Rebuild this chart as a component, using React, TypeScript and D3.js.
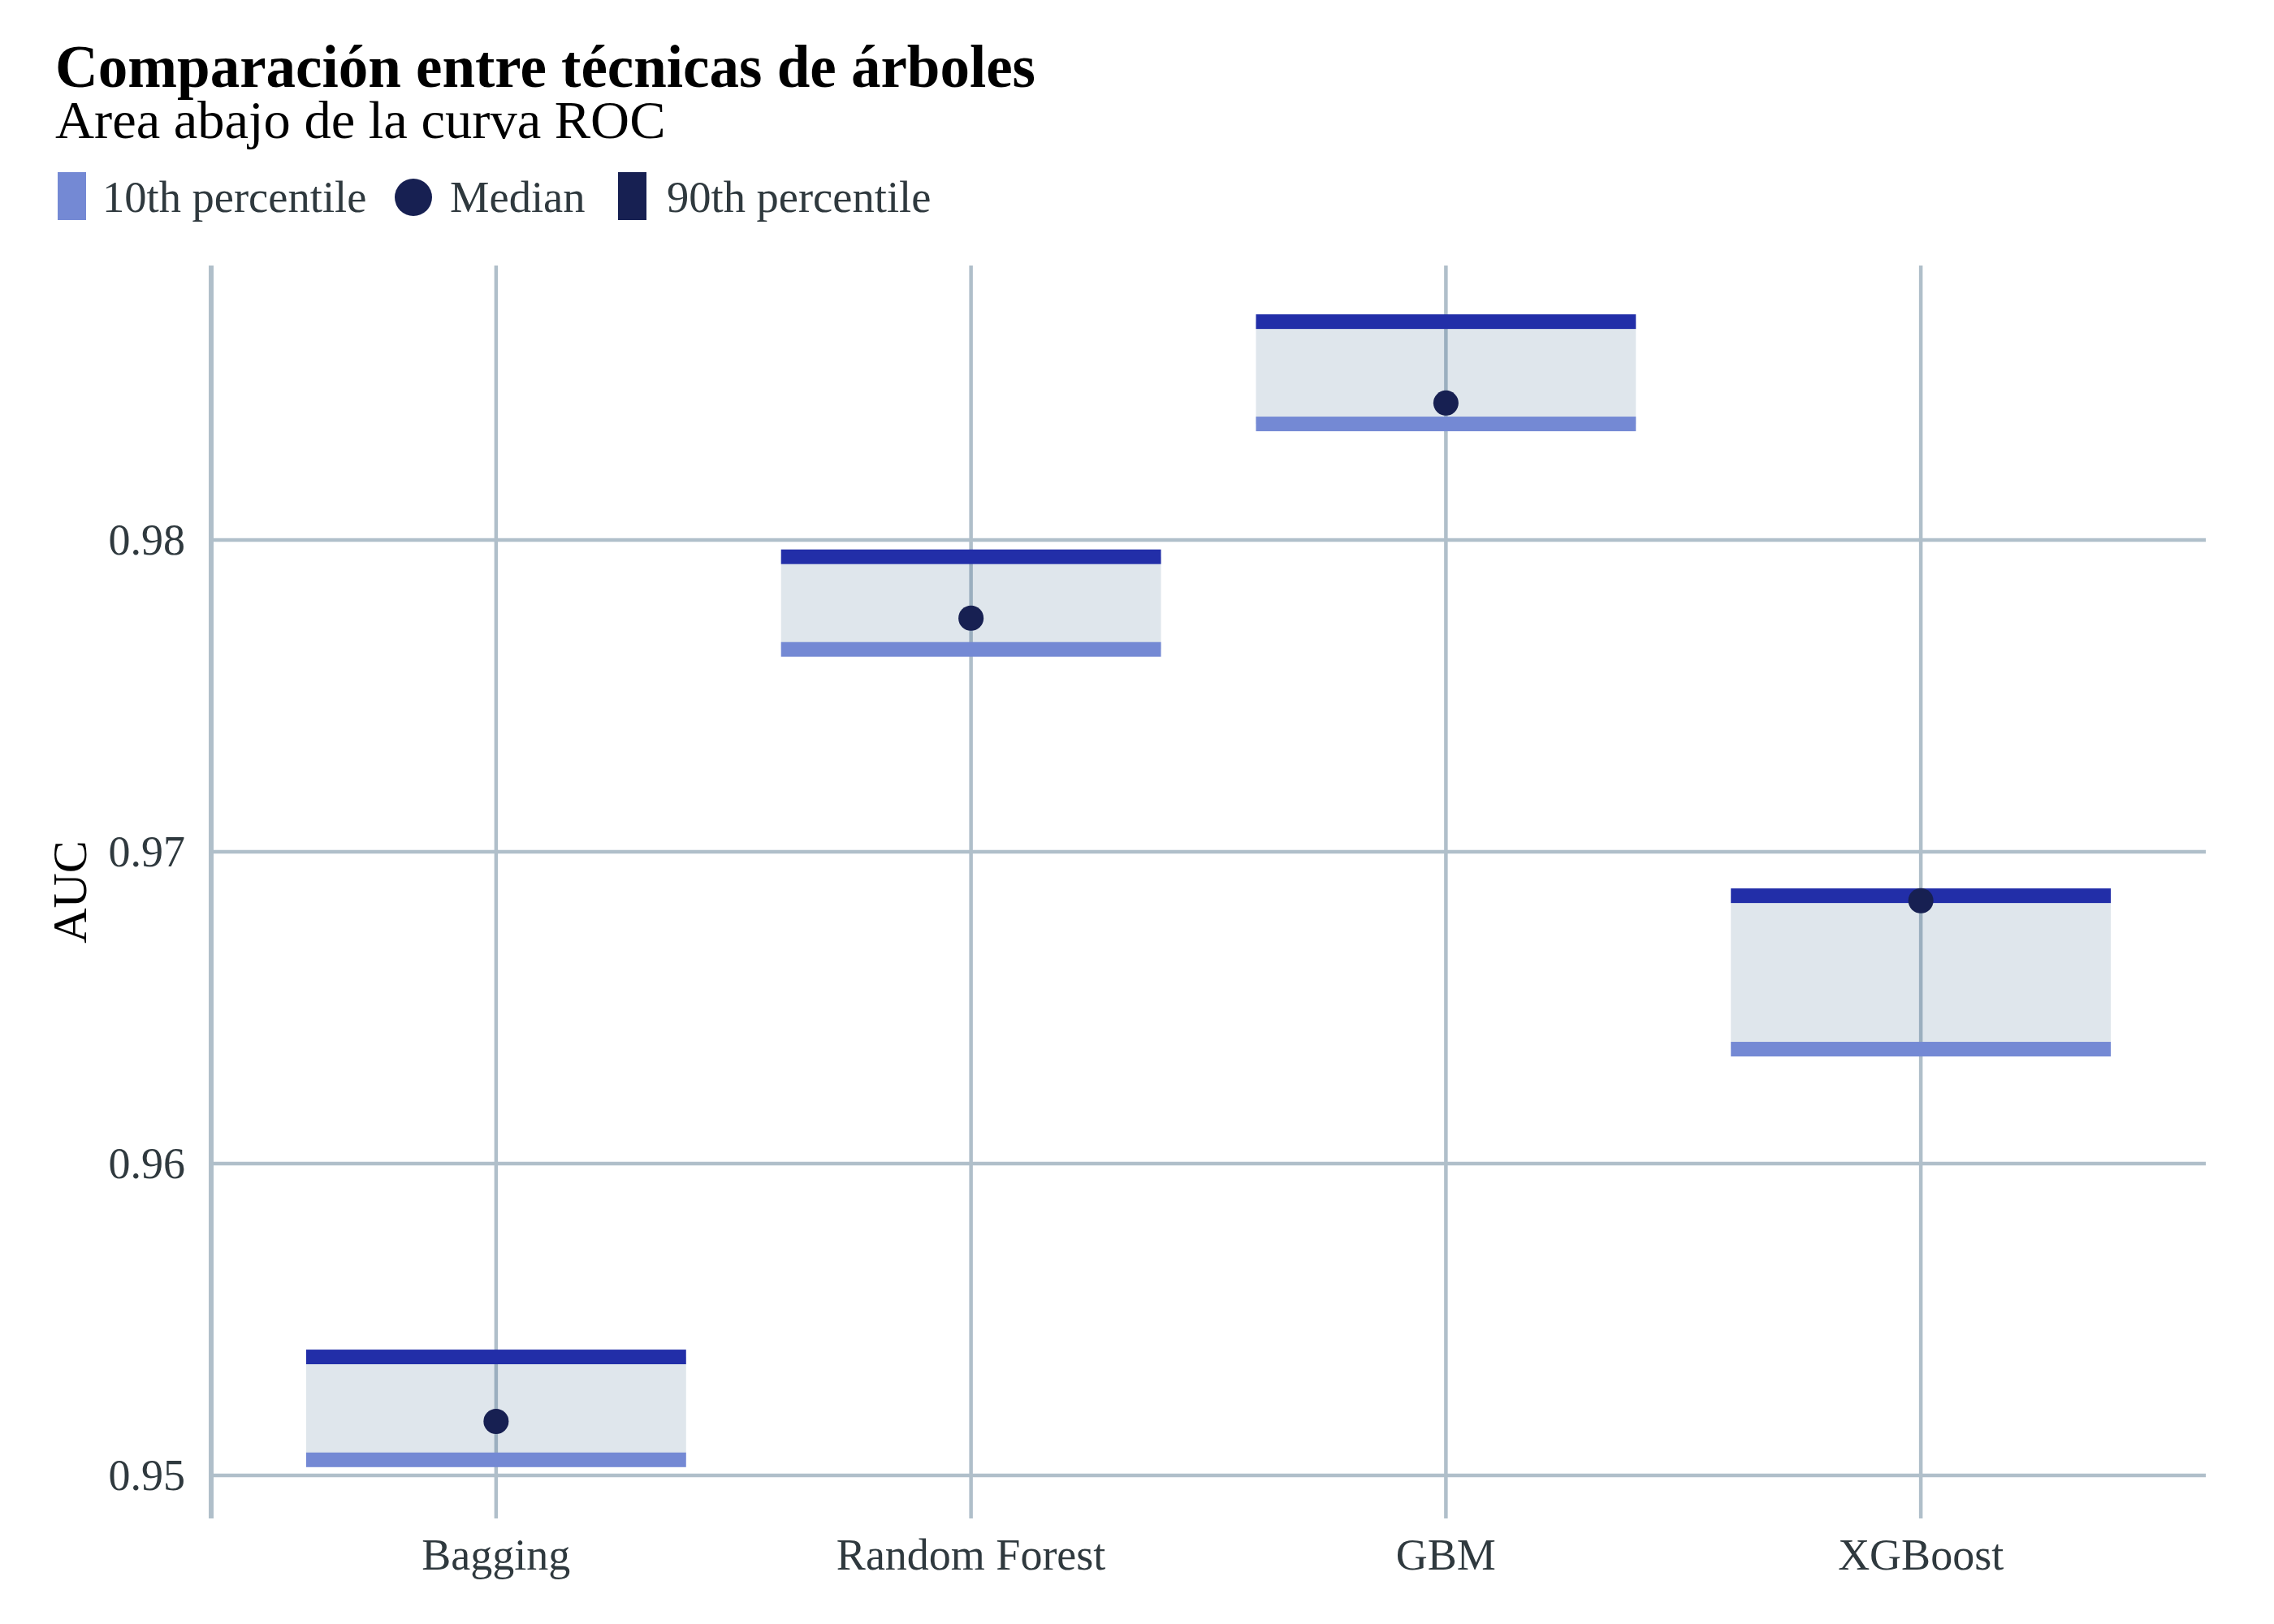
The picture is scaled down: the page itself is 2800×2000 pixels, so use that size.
import React from "react";
import * as d3 from "d3";

const categories = ["Bagging", "Random Forest", "GBM", "XGBoost"];
const p10 = [0.9505, 0.97649, 0.98372, 0.96367];
const median = [0.95173, 0.97749, 0.98439, 0.96843];
const p90 = [0.9538, 0.97946, 0.987, 0.96859];
const yTicks = [0.95, 0.96, 0.97, 0.98];
const legendItems = ["10th percentile", "Median", "90th percentile"];

const W = 2800;
const H = 2000;
const FONT = "'Liberation Serif', 'Times New Roman', serif";
const GRID = "#b0bfca";
const TEXT = "#2f393e";
const DARK = "#222ea8";
const LIGHT = "#7489d4";
const DOT = "#172052";

export default function App() {
  const x = d3.scalePoint<string>().domain(categories).range([260, 2716]).padding(0.6);
  const y = d3.scaleLinear().domain([0.94862, 0.9888]).range([1870, 327]);
  const step = x.step();
  const boxW = step * 0.8;
  const bandH = 18;
  const [yTop, yBot] = [y.range()[1], y.range()[0]];

  return (
    <svg width={W} height={H} style={{ position: "absolute", left: 0, top: 0, background: "#fff" }}>
      <rect x={0} y={0} width={W} height={H} fill="#fff" />
      {/* horizontal gridlines */}
      {yTicks.map((t) => (
        <line key={"h" + t} x1={260} x2={2716} y1={y(t)} y2={y(t)} stroke={GRID} strokeWidth={4.5} />
      ))}
      {/* vertical gridlines */}
      {categories.map((c) => (
        <line key={"v" + c} x1={x(c)} x2={x(c)} y1={yTop} y2={yBot} stroke={GRID} strokeWidth={4.5} />
      ))}
      {/* y axis line */}
      <line x1={260} x2={260} y1={yTop} y2={yBot} stroke={GRID} strokeWidth={6} />

      {/* boxes */}
      {categories.map((c, i) => {
        const cx = x(c) as number;
        return (
          <g key={"b" + c}>
            <rect x={cx - boxW / 2} y={y(p90[i])} width={boxW} height={y(p10[i]) - y(p90[i])} fill="rgb(40,90,130)" fillOpacity={0.15} />
            <rect x={cx - boxW / 2} y={y(p90[i]) - bandH / 2} width={boxW} height={bandH} fill={DARK} />
            <rect x={cx - boxW / 2} y={y(p10[i]) - bandH / 2} width={boxW} height={bandH} fill={LIGHT} />
            <circle cx={cx} cy={y(median[i])} r={15.5} fill={DOT} />
          </g>
        );
      })}

      {/* y tick labels */}
      {yTicks.map((t) => (
        <text key={"yt" + t} x={228} y={y(t)} dy="0.34em" textAnchor="end" fontFamily={FONT} fontSize={54} fill={TEXT}>
          {d3.format(".2f")(t)}
        </text>
      ))}
      {/* x tick labels */}
      {categories.map((c) => (
        <text key={"xt" + c} x={x(c)} y={1933} textAnchor="middle" fontFamily={FONT} fontSize={54} fill={TEXT}>
          {c}
        </text>
      ))}
      {/* y axis title */}
      <text transform={`translate(106, ${(yTop + yBot) / 2}) rotate(-90)`} textAnchor="middle" fontFamily={FONT} fontSize={60} fill="#000">
        AUC
      </text>

      {/* title */}
      <text x={68} y={107} fontFamily={FONT} fontSize={73} fontWeight="bold" fill="#000">
        Comparación entre técnicas de árboles
      </text>
      <text x={68} y={170} fontFamily={FONT} fontSize={66.5} fill="#000">
        Area abajo de la curva ROC
      </text>

      {/* legend */}
      <rect x={71} y={212} width={35} height={59} fill={LIGHT} />
      <text x={126} y={261} fontFamily={FONT} fontSize={54.5} fill={TEXT}>{legendItems[0]}</text>
      <circle cx={509} cy={243} r={23} fill={DOT} />
      <text x={554} y={261} fontFamily={FONT} fontSize={54.5} fill={TEXT}>{legendItems[1]}</text>
      <rect x={761} y={212} width={35} height={59} fill={DOT} />
      <text x={821} y={261} fontFamily={FONT} fontSize={54.5} fill={TEXT}>{legendItems[2]}</text>
    </svg>
  );
}
